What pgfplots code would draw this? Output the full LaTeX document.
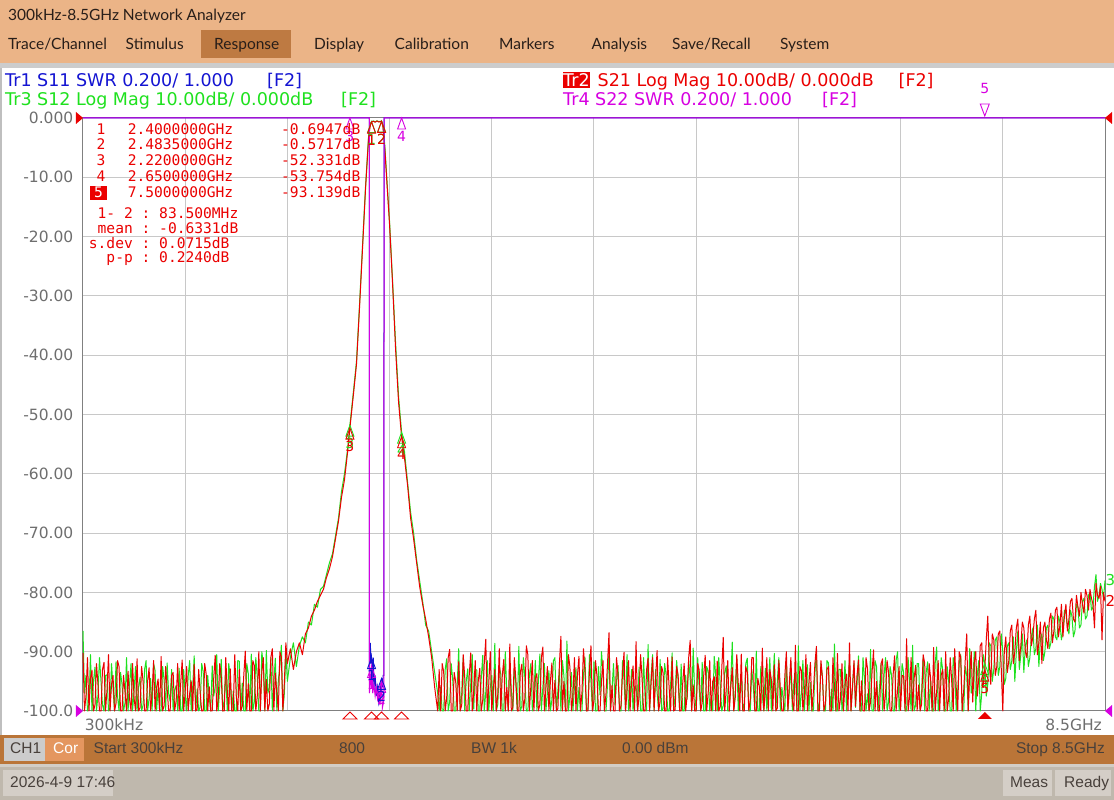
\documentclass[border=0pt]{standalone}
\usepackage{pgfplots}
\pgfplotsset{compat=1.18}
\usepackage{pgfplotstable}
\usepackage{fontspec}
\setmainfont{DejaVu Sans}
\newfontfamily\uifont{Lato}
\newfontfamily\arialfont{Liberation Sans}
\newfontfamily\monofont{DejaVu Sans Mono}

\definecolor{barorange}{RGB}{235,180,135}
\definecolor{respbox}{RGB}{190,122,66}
\definecolor{statusbar}{RGB}{186,117,56}
\definecolor{bottomgray}{RGB}{191,184,173}
\definecolor{uitext}{RGB}{40,30,25}
\definecolor{trred}{RGB}{235,0,0}
\definecolor{trgreen}{RGB}{30,225,30}
\definecolor{trblue}{RGB}{20,20,210}
\definecolor{trmag}{RGB}{215,0,225}
\definecolor{gridgray}{RGB}{200,200,200}
\definecolor{ticktext}{RGB}{110,110,110}
\definecolor{corbox}{RGB}{228,150,95}
\definecolor{btnbox}{RGB}{212,206,199}

\newcommand{\lbl}{\fontsize{14}{16}\selectfont}
\newcommand{\hdr}{\fontsize{17.5}{20}\selectfont}
\newcommand{\mono}{\monofont\fontsize{14.6}{16}\selectfont}

% marker shapes
\pgfdeclareplotmark{mkup}{%
  \pgfpathmoveto{\pgfqpoint{0pt}{0pt}}%
  \pgfpathlineto{\pgfqpoint{4pt}{-11pt}}%
  \pgfpathlineto{\pgfqpoint{-4pt}{-11pt}}%
  \pgfpathclose\pgfusepathqstroke}
\pgfdeclareplotmark{dntri}{%
  \pgfpathmoveto{\pgfqpoint{0pt}{2pt}}%
  \pgfpathlineto{\pgfqpoint{4.5pt}{14pt}}%
  \pgfpathlineto{\pgfqpoint{-4.5pt}{14pt}}%
  \pgfpathclose\pgfusepathqstroke}
\pgfdeclareplotmark{stim}{%
  \pgfpathmoveto{\pgfqpoint{0pt}{-1pt}}%
  \pgfpathlineto{\pgfqpoint{7pt}{-8pt}}%
  \pgfpathlineto{\pgfqpoint{-7pt}{-8pt}}%
  \pgfpathclose\pgfusepathqstroke}
\pgfdeclareplotmark{stimfill}{%
  \pgfpathmoveto{\pgfqpoint{0pt}{-1pt}}%
  \pgfpathlineto{\pgfqpoint{7pt}{-8pt}}%
  \pgfpathlineto{\pgfqpoint{-7pt}{-8pt}}%
  \pgfpathclose\pgfusepathqfill}
\pgfdeclareplotmark{rtri}{%
  \pgfpathmoveto{\pgfqpoint{0pt}{0pt}}%
  \pgfpathlineto{\pgfqpoint{-7pt}{6pt}}%
  \pgfpathlineto{\pgfqpoint{-7pt}{-6pt}}%
  \pgfpathclose\pgfusepathqfill}
\pgfdeclareplotmark{ltri}{%
  \pgfpathmoveto{\pgfqpoint{0pt}{0pt}}%
  \pgfpathlineto{\pgfqpoint{7pt}{6pt}}%
  \pgfpathlineto{\pgfqpoint{7pt}{-6pt}}%
  \pgfpathclose\pgfusepathqfill}

\pgfplotsset{mk/.style={only marks, mark=mkup, color=#1,
    mark options={line width=0.9pt, solid},
    nodes near coords, point meta=explicit symbolic,
    every node near coord/.style={anchor=north, yshift=-12.5pt, inner sep=0pt, font=\lbl, text=#1}}}

% f [GHz], S21 (red), S12 (green) in dB
\pgfplotstableread{
f r g
0.0003 -90.2 -86.5
0.0125 -100 -97.0
0.025 -97.5 -94.0
0.0375 -91.0 -100
0.050 -100 -98.8
0.0625 -94.5 -90.5
0.075 -93.1 -100
0.0875 -100 -95.0
0.100 -99.0 -92.6
0.1125 -92.0 -100
0.125 -95.6 -97.3
0.1375 -100 -91.0
0.150 -100 -95.0
0.1625 -93.0 -99.0
0.175 -91.8 -100
0.1875 -100 -94.0
0.200 -96.4 -93.9
0.2125 -90.5 -100
0.225 -100 -99.5
0.2375 -95.5 -92.0
0.250 -94.0 -96.1
0.2625 -100 -100
0.275 -98.7 -91.7
0.2875 -91.5 -97.5
0.300 -92.5 -100
0.3125 -100 -93.5
0.325 -100 -95.5
0.3375 -94.0 -100
0.350 -96.9 -98.6
0.3625 -100 -91.0
0.375 -93.3 -100
0.3875 -98.0 -95.5
0.400 -100 -92.0
0.4125 -92.0 -100
0.425 -97.8 -96.7
0.4375 -100 -92.5
0.450 -91.2 -100
0.4625 -100 -96.0
0.475 -99.4 -94.3
0.4875 -92.5 -100
0.500 -95.0 -99.0
0.5125 -100 -93.0
0.525 -100 -91.5
0.5375 -95.0 -100
0.550 -92.7 -97.9
0.5625 -100 -94.5
0.575 -97.1 -100
0.5875 -91.5 -92.0
0.600 -100 -93.2
0.6125 -96.0 -100
0.625 -94.6 -96.0
0.6375 -100 -100
0.650 -90.8 -100
0.6625 -100 -92.5
0.675 -99.1 -94.8
0.6875 -92.5 -100
0.700 -96.2 -91.9
0.7125 -100 -97.0
0.725 -100 -98.4
0.7375 -94.0 -93.0
0.750 -93.5 -100
0.7625 -100 -96.5
0.775 -98.3 -95.7
0.7875 -92.0 -100
0.800 -100 -92.8
0.8125 -95.5 -100
0.825 -91.4 -100
0.8375 -100 -93.0
0.850 -96.8 -97.2
0.8625 -92.5 -100
0.875 -100 -94.1
0.8875 -97.0 -91.5
0.900 -94.9 -100
0.9125 -100 -96.0
0.925 -92.1 -90.7
0.9375 -100 -100
0.950 -99.7 -96.3
0.9625 -93.0 -100
0.975 -97.0 -99.3
0.9875 -100 -92.0
1.000 -100 -93.4
1.0125 -92.0 -100
1.025 -93.8 -100
1.0375 -100 -94.0
1.050 -95.9 -97.7
1.0625 -100 -100
1.075 -100 -92.4
1.0875 -94.5 -97.5
1.100 -90.6 -95.8
1.1125 -100 -90.5
1.125 -98.0 -100
1.1375 -92.0 -96.0
1.150 -94.2 -91.3
1.1625 -100 -100
1.175 -100 -98.1
1.1875 -91.0 -93.5
1.200 -96.5 -100
1.2125 -100 -92.0
1.225 -92.9 -94.5
1.2375 -100 -100
1.250 -100 -96.6
1.2625 -90.5 -100
1.275 -97.6 -100
1.2875 -100 -91.5
1.300 -93.0 -91.6
1.3125 -100 -100
1.325 -99.2 -95.3
1.3375 -94.0 -100
1.350 -89.9 -100
1.3625 -100 -92.0
1.375 -95.4 -93.7
1.3875 -100 -100
1.400 -100 -90.4
1.4125 -91.5 -100
1.425 -92.3 -98.5
1.4375 -100 -91.0
1.450 -97.4 -94.4
1.4625 -90.0 -100
1.475 -100 -100
1.4875 -93.5 -90.0
1.500 -91.0 -92.2
1.5125 -100 -100
1.525 -94.7 -89.8
1.5375 -100 -97.0
1.550 -98.8 -96.0
1.5625 -91.0 -91.0
1.575 -89.5 -100
1.5875 -100 -95.0
1.600 -93.6 -91.1
1.6125 -97.0 -100
1.625 -100 -94.8
1.6375 -90.0 -92.5
1.650 -90.9 -88.9
1.6625 -100 -100
1.675 -95.2 -97.0
1.6875 -88.5 -90.0
1.700 -92.0 -95.0
1.725 -89.5 -91.0
1.750 -93.0 -88.5
1.775 -90.0 -92.5
1.800 -88.5 -89.0
1.825 -90.5 -87.5
1.850 -87.0 -88.5
1.875 -86.0 -85.0
1.900 -84.0 -85.5
1.925 -83.0 -82.0
1.950 -81.5 -82.5
1.975 -80.5 -79.5
2.000 -79.5 -79.0
2.025 -77.5 -77.0
2.050 -76.0 -75.0
2.075 -74.0 -73.5
2.100 -71.0 -70.5
2.125 -68.0 -67.5
2.150 -64.0 -63.0
2.175 -61.0 -60.0
2.200 -56.5 -56.0
2.220 -52.3 -51.8
2.250 -46.5 -46.0
2.275 -41.5 -41.0
2.300 -32.0 -31.5
2.325 -22.0 -21.5
2.350 -12.0 -11.5
2.375 -3.5 -3.2
2.390 -1.0 -0.9
2.400 -0.69 -0.62
2.415 -0.55 -0.50
2.430 -0.72 -0.66
2.445 -0.50 -0.47
2.460 -0.68 -0.61
2.475 -0.60 -0.55
2.4835 -0.57 -0.52
2.495 -1.5 -1.4
2.510 -5.0 -4.6
2.525 -10.0 -9.5
2.550 -18.0 -17.5
2.575 -28.0 -27.5
2.600 -39.0 -38.0
2.625 -48.0 -47.0
2.650 -53.75 -53.0
2.675 -57.5 -56.5
2.700 -62.0 -61.5
2.725 -67.5 -66.5
2.750 -71.0 -70.0
2.775 -75.0 -74.5
2.800 -79.0 -78.0
2.825 -82.0 -81.5
2.850 -84.5 -85.5
2.875 -87.5 -86.5
2.900 -91.0 -90.0
2.925 -96.0 -93.5
2.950 -100 -97.0
2.9625 -93.0 -100
2.975 -100 -96.0
2.9875 -92.0 -100
3.000 -93.4 -100
3.0125 -100 -93.0
3.025 -97.8 -91.2
3.0375 -91.0 -100
3.050 -89.6 -98.4
3.0625 -100 -92.0
3.075 -100 -94.7
3.0875 -93.5 -100
3.100 -95.1 -100
3.1125 -100 -95.5
3.125 -91.7 -89.5
3.1375 -100 -100
3.150 -99.0 -97.1
3.1625 -90.5 -91.0
3.175 -94.3 -100
3.1875 -100 -95.0
3.200 -100 -92.9
3.2125 -94.0 -100
3.225 -90.2 -95.4
3.2375 -100 -90.5
3.250 -96.7 -99.7
3.2625 -91.5 -93.0
3.275 -100 -93.1
3.2875 -95.0 -100
3.300 -92.8 -100
3.3125 -100 -94.5
3.325 -98.1 -90.6
3.3375 -92.0 -100
3.350 -87.9 -96.8
3.3625 -100 -91.5
3.375 -95.5 -100
3.3875 -90.0 -96.0
3.400 -100 -94.0
3.4125 -96.5 -100
3.425 -93.0 -88.6
3.4375 -100 -100
3.450 -97.2 -98.9
3.4625 -89.5 -92.5
3.475 -100 -93.8
3.4875 -94.0 -100
3.500 -91.3 -100
3.5125 -100 -90.0
3.525 -96.0 -97.0
3.5375 -100 -100
3.550 -88.7 -91.5
3.5625 -100 -96.5
3.575 -99.4 -100
3.5875 -91.0 -93.0
3.600 -94.6 -95.3
3.6125 -100 -100
3.625 -100 -89.1
3.6375 -93.5 -100
3.650 -92.1 -99.2
3.6625 -100 -91.0
3.675 -97.9 -94.4
3.6875 -89.0 -100
3.700 -90.5 -100
3.7125 -100 -94.0
3.725 -95.8 -92.0
3.7375 -91.5 -100
3.750 -100 -97.6
3.7625 -94.5 -91.5
3.775 -93.7 -100
3.7875 -100 -95.0
3.800 -98.9 -90.4
3.8125 -91.0 -100
3.825 -89.2 -95.9
3.8375 -100 -92.0
3.850 -96.3 -100
3.8625 -92.5 -97.0
3.875 -100 -93.2
3.8875 -95.0 -100
3.900 -91.9 -98.1
3.9125 -100 -91.5
3.925 -94.8 -91.0
3.9375 -100 -100
3.950 -99.6 -96.5
3.9625 -92.0 -93.0
3.975 -87.4 -100
3.9875 -100 -91.5
4.000 -95.0 -94.1
4.0125 -100 -100
4.025 -100 -88.2
4.0375 -90.5 -100
4.050 -92.6 -97.4
4.0625 -100 -93.5
4.075 -97.5 -100
4.0875 -91.0 -96.0
4.100 -100 -92.7
4.1125 -94.0 -100
4.125 -90.8 -96.0
4.1375 -100 -100
4.150 -96.9 -100
4.1625 -89.5 -94.0
4.175 -93.3 -90.9
4.1875 -100 -100
4.200 -100 -99.5
4.2125 -93.0 -90.5
4.225 -89.0 -95.1
4.2375 -100 -100
4.250 -98.2 -91.7
4.2625 -91.5 -100
4.275 -94.1 -100
4.2875 -100 -92.5
4.300 -100 -97.3
4.3125 -95.0 -90.0
4.325 -91.5 -93.6
4.3375 -100 -100
4.350 -97.0 -100
4.3625 -92.0 -95.5
4.375 -86.8 -89.8
4.3875 -100 -100
4.400 -95.7 -96.4
4.4125 -100 -92.0
4.425 -100 -99.0
4.4375 -91.0 -95.0
4.450 -93.9 -92.3
4.4625 -100 -100
4.475 -99.1 -100
4.4875 -93.5 -91.5
4.500 -90.1 -94.8
4.5125 -100 -100
4.525 -96.5 -90.5
4.5375 -91.5 -100
4.550 -100 -98.2
4.5625 -95.0 -93.0
4.575 -92.4 -100
4.5875 -100 -96.5
4.600 -88.3 -95.7
4.6125 -100 -100
4.625 -97.6 -92.6
4.6375 -90.5 -100
4.650 -94.5 -100
4.6625 -100 -91.0
4.675 -100 -97.9
4.6875 -93.0 -100
4.700 -91.1 -88.8
4.7125 -100 -100
4.725 -95.3 -94.2
4.7375 -91.0 -90.5
4.750 -100 -100
4.7625 -94.5 -93.0
4.775 -89.8 -96.9
4.7875 -100 -100
4.800 -98.4 -91.3
4.8125 -92.5 -100
4.825 -93.6 -99.6
4.8375 -100 -92.0
4.850 -100 -93.9
4.8625 -91.0 -100
4.875 -96.1 -100
4.8875 -100 -95.5
4.900 -90.9 -90.2
4.9125 -100 -100
4.925 -99.8 -97.2
4.9375 -92.5 -91.5
4.950 -94.0 -95.0
4.9625 -100 -100
4.975 -100 -92.1
4.9875 -95.5 -100
5.000 -92.0 -100
5.0125 -100 -94.0
5.025 -97.3 -98.0
5.0375 -91.0 -91.5
5.050 -88.1 -94.5
5.0625 -100 -100
5.075 -95.6 -89.4
5.0875 -100 -97.0
5.100 -100 -100
5.1125 -92.0 -91.0
5.125 -93.1 -96.2
5.1375 -100 -100
5.150 -98.6 -91.8
5.1625 -94.0 -100
5.175 -90.6 -100
5.1875 -100 -92.5
5.200 -96.8 -93.3
5.2125 -91.5 -100
5.225 -100 -97.7
5.2375 -95.0 -100
5.250 -94.2 -90.8
5.2625 -100 -94.0
5.275 -91.6 -100
5.2875 -100 -91.0
5.300 -99.3 -95.5
5.3125 -93.0 -100
5.325 -87.6 -99.1
5.3375 -100 -93.5
5.350 -96.2 -92.4
5.3625 -91.5 -100
5.375 -100 -100
5.3875 -96.0 -95.0
5.400 -92.7 -88.4
5.4125 -100 -100
5.425 -97.7 -96.6
5.4375 -90.5 -91.0
5.450 -95.4 -100
5.4625 -100 -96.0
5.475 -90.4 -93.7
5.4875 -100 -100
5.500 -100 -98.6
5.5125 -92.5 -92.0
5.525 -93.5 -91.1
5.5375 -100 -100
5.550 -98.0 -100
5.5625 -91.0 -93.0
5.575 -91.0 -95.8
5.5875 -100 -100
5.600 -100 -89.9
5.6125 -94.5 -100
5.625 -95.9 -100
5.6375 -100 -92.5
5.650 -89.4 -97.5
5.6625 -100 -100
5.675 -97.1 -92.8
5.6875 -91.0 -100
5.700 -100 -96.1
5.7125 -93.0 -91.0
5.725 -94.7 -100
5.7375 -100 -95.5
5.750 -92.2 -90.3
5.7625 -100 -100
5.775 -99.5 -94.9
5.7875 -91.5 -91.0
5.800 -96.4 -100
5.8125 -100 -96.0
5.825 -100 -98.3
5.8375 -94.0 -100
5.850 -90.0 -91.6
5.8625 -100 -100
5.875 -95.2 -96.7
5.8875 -91.0 -92.0
5.900 -98.3 -100
5.9125 -100 -95.0
5.925 -88.9 -93.4
5.9375 -100 -100
5.950 -100 -89.0
5.9625 -92.5 -100
5.975 -93.2 -97.0
5.9875 -100 -91.5
6.000 -97.4 -100
6.0125 -90.5 -95.0
6.025 -100 -92.2
6.0375 -95.5 -100
6.050 -91.8 -95.2
6.0625 -100 -100
6.075 -96.6 -100
6.0875 -92.0 -93.5
6.100 -89.1 -90.1
6.1125 -100 -100
6.125 -100 -98.8
6.1375 -91.5 -92.0
6.150 -94.4 -94.3
6.1625 -100 -100
6.175 -98.7 -100
6.1875 -93.0 -91.5
6.200 -92.5 -91.9
6.2125 -100 -100
6.225 -100 -96.3
6.2375 -91.0 -100
6.250 -95.9 -88.7
6.2625 -100 -100
6.275 -90.3 -100
6.2875 -100 -93.0
6.300 -97.9 -93.0
6.3125 -92.0 -100
6.325 -100 -97.8
6.3375 -95.5 -91.5
6.350 -93.8 -100
6.3625 -100 -95.0
6.375 -88.5 -91.4
6.3875 -100 -100
6.400 -96.0 -95.6
6.4125 -91.5 -92.0
6.425 -99.2 -99.4
6.4375 -94.0 -95.5
6.450 -91.4 -90.7
6.4625 -100 -100
6.475 -94.9 -100
6.4875 -100 -91.0
6.500 -100 -94.6
6.5125 -91.0 -100
6.525 -92.9 -97.1
6.5375 -100 -100
6.550 -98.5 -89.6
6.5625 -93.5 -100
6.575 -89.7 -100
6.5875 -100 -91.5
6.600 -95.0 -92.5
6.6125 -100 -100
6.625 -100 -96.0
6.6375 -92.0 -92.0
6.650 -91.2 -100
6.6625 -100 -94.0
6.675 -97.0 -91.0
6.6875 -91.5 -100
6.700 -93.5 -98.5
6.7125 -100 -92.5
6.725 -100 -94.0
6.7375 -94.0 -100
6.750 -90.7 -100
6.7625 -100 -91.5
6.775 -96.3 -90.0
6.7875 -92.5 -100
6.800 -99.9 -97.4
6.8125 -94.0 -92.0
6.825 -94.1 -93.5
6.8375 -100 -100
6.850 -87.8 -100
6.8625 -100 -91.0
6.875 -97.5 -95.3
6.8875 -91.0 -100
6.900 -100 -88.9
6.9125 -94.5 -100
6.925 -92.3 -99.0
6.9375 -100 -92.0
6.950 -95.6 -92.0
6.9625 -100 -100
6.975 -98.8 -96.8
6.9875 -90.5 -91.0
7.000 -91.9 -100
7.0125 -100 -93.5
7.025 -100 -91.7
7.0375 -92.0 -100
7.050 -94.6 -94.9
7.0625 -100 -100
7.075 -89.3 -100
7.0875 -100 -92.0
7.100 -96.7 -89.2
7.1125 -91.5 -100
7.125 -100 -97.3
7.1375 -94.0 -91.0
7.150 -93.0 -93.1
7.1625 -100 -100
7.175 -90.0 -100
7.1875 -100 -92.5
7.200 -97.8 -95.0
7.2125 -91.0 -100
7.225 -95.0 -100
7.2375 -100 -91.0
7.250 -89.5 -93.0
7.2625 -96.0 -100
7.275 -100 -96.5
7.2875 -90.0 -92.0
7.300 -91.0 -90.5
7.3125 -100 -100
7.325 -96.5 -100
7.3375 -91.5 -92.5
7.350 -87.0 -94.0
7.3625 -100 -100
7.375 -93.5 -89.5
7.3875 -90.0 -97.0
7.400 -98.5 -95.5
7.4125 -92.0 -90.0
7.425 -90.0 -100
7.4375 -97.5 -94.0
7.450 -94.5 -91.5
7.4625 -89.0 -100
7.475 -88.5 -97.0
7.4875 -96.0 -90.5
7.500 -93.1 -92.0
7.5125 -88.0 -97.5
7.525 -84.0 -95.5
7.5375 -92.0 -88.5
7.550 -95.5 -89.0
7.5625 -87.0 -95.0
7.575 -88.0 -93.0
7.5875 -94.0 -88.0
7.600 -92.5 -87.5
7.6125 -87.0 -94.0
7.625 -86.5 -92.5
7.6375 -93.0 -87.0
7.650 -100 -90.0
7.6625 -90.0 -95.5
7.675 -87.5 -94.5
7.6875 -93.5 -89.0
7.700 -91.5 -88.5
7.7125 -86.5 -93.0
7.725 -85.5 -91.5
7.7375 -92.0 -87.5
7.750 -90.0 -95.0
7.7625 -86.0 -90.0
7.775 -84.5 -86.5
7.7875 -91.5 -93.0
7.800 -89.0 -90.5
7.8125 -85.0 -87.0
7.825 -86.0 -93.5
7.8375 -90.0 -89.0
7.850 -91.0 -88.0
7.8625 -85.5 -92.5
7.875 -84.0 -91.0
7.8875 -89.0 -87.5
7.900 -87.5 -86.0
7.9125 -84.5 -90.5
7.925 -83.0 -89.5
7.9375 -90.5 -85.5
7.950 -88.5 -92.5
7.9625 -85.0 -88.0
7.975 -92.0 -87.0
7.9875 -86.0 -91.5
8.000 -85.0 -90.0
8.0125 -88.0 -86.0
8.025 -89.5 -85.5
8.0375 -84.5 -89.5
8.050 -83.5 -88.5
8.0625 -88.5 -84.0
8.075 -86.5 -84.5
8.0875 -83.0 -87.5
8.100 -82.5 -88.0
8.1125 -87.5 -84.0
8.125 -85.5 -85.0
8.1375 -82.0 -88.0
8.150 -87.5 -86.5
8.1625 -84.0 -83.0
8.175 -82.0 -83.5
8.1875 -86.5 -86.0
8.200 -84.5 -87.0
8.2125 -81.5 -83.0
8.225 -81.0 -84.0
8.2375 -84.5 -87.5
8.250 -85.0 -86.5
8.2625 -80.5 -82.0
8.275 -82.5 -82.5
8.2875 -84.0 -86.0
8.300 -80.0 -85.5
8.3125 -82.0 -81.5
8.325 -83.5 -81.0
8.3375 -79.5 -84.5
8.350 -80.5 -84.0
8.3625 -83.0 -80.5
8.375 -79.5 -80.0
8.3875 -81.0 -83.0
8.400 -82.0 -82.5
8.4125 -86.0 -79.0
8.425 -78.5 -77.0
8.4375 -80.5 -81.5
8.450 -81.0 -80.5
8.4625 -79.0 -78.5
8.475 -88.0 -79.5
8.4875 -80.0 -81.0
8.500 -81.5 -78.0
}\tracedata

\begin{document}
\begin{tikzpicture}[x=1pt,y=1pt]
\useasboundingbox (0pt,0pt) rectangle (1114pt,800pt);
% window background
\fill[white] (0,0) rectangle (1114,800);
\fill[barorange] (0,737) rectangle (1114,800);
\fill[gray!40] (0,732) rectangle (1114,737);
\fill[respbox] (201,742) rectangle (291,770);
\fill[gray!50] (0,65) rectangle (2,732);
\fill[statusbar] (0,36) rectangle (1114,65);
\fill[bottomgray!70!white] (0,33) rectangle (1114,36);
\fill[bottomgray] (0,0) rectangle (1114,33);
\fill[gray!40] (4,39) rectangle (45,62);
\fill[corbox] (45,39) rectangle (84,62);
\fill[btnbox] (3,4) rectangle (113,30);
\fill[btnbox] (1003,4) rectangle (1052,30);
\fill[btnbox] (1055,4) rectangle (1111,30);

% title and menu
\node[anchor=base west, inner sep=0, text=uitext, font=\uifont\fontsize{15.5}{18}\selectfont] at (8,779.5) {300kHz-8.5GHz Network Analyzer};
\begin{scope}[every node/.style={anchor=base west, inner sep=0, text=uitext, font=\uifont\fontsize{15.5}{18}\selectfont}]
\node at (8,750) {Trace/Channel};
\node at (125.5,750) {Stimulus};
\node at (214,750) {Response};
\node at (314,750) {Display};
\node at (394.5,750) {Calibration};
\node at (499,750) {Markers};
\node at (591.5,750) {Analysis};
\node at (672,750) {Save/Recall};
\node at (780,750) {System};
\end{scope}

% trace header lines
\begin{scope}[every node/.style={anchor=base west, inner sep=0, font=\hdr}]
\node[text=trblue] at (5,713.3) {Tr1 S11 SWR 0.200/ 1.000};
\node[text=trblue] at (267,713.3) {[F2]};
\node[text=trgreen] at (5,694) {Tr3 S12 Log Mag 10.00dB/ 0.000dB};
\node[text=trgreen] at (341,694) {[F2]};
\node[text=white, fill=trred, inner ysep=1.5pt] at (563,713.3) {Tr2};
\node[text=trred] at (597.5,713.3) {S21 Log Mag 10.00dB/ 0.000dB};
\node[text=trred] at (898.5,713.3) {[F2]};
\node[text=trmag] at (563,694) {Tr4 S22 SWR 0.200/ 1.000};
\node[text=trmag] at (822,694) {[F2]};
\end{scope}

\begin{axis}[
  at={(83pt,89pt)}, anchor=south west, scale only axis,
  width=1022pt, height=593pt,
  xmin=0.0003, xmax=8.5, ymin=-100, ymax=0,
  xtick={0.85,1.7,2.55,3.4,4.25,5.1,5.95,6.8,7.65}, xticklabels={},
  ytick={-100,-90,-80,-70,-60,-50,-40,-30,-20,-10,0},
  yticklabels={-100.0,-90.00,-80.00,-70.00,-60.00,-50.00,-40.00,-30.00,-20.00,-10.00,0.000},
  yticklabel style={font=\fontsize{15.5}{18}\selectfont, text=ticktext, inner sep=0pt, xshift=-9.5pt},
  grid=major, major grid style={gridgray, line width=1pt},
  major tick length=0pt,
  axis line style={draw=gray, line width=1pt},
  clip=false,
]
% S12 and S21 traces
\addplot[trgreen, line width=1pt, line join=round] table[x=f, y=g] {\tracedata};
\addplot[trred, line width=1pt, line join=round] table[x=f, y=r] {\tracedata};
% S11 SWR trace (display units)
\addplot[trblue, line width=1pt] coordinates {
 (0.0003,0) (2.381,0) (2.382,-93) (2.390,-88.5) (2.395,-92) (2.400,-91) (2.405,-92) (2.410,-95)
 (2.415,-91) (2.420,-96) (2.430,-94) (2.440,-97.5) (2.450,-96) (2.460,-98.5)
 (2.470,-97) (2.4835,-94.5) (2.490,-96) (2.497,-94) (2.503,-94) (2.504,0) (8.5,0)};
% S22 SWR trace (display units)
\addplot[trmag, line width=1pt] coordinates {
 (0.0003,0) (2.381,0) (2.382,-97) (2.390,-95.5) (2.395,-93) (2.400,-92.5) (2.405,-94)
 (2.410,-97) (2.420,-95.5) (2.430,-97.5) (2.440,-96) (2.450,-98) (2.460,-97)
 (2.470,-99) (2.4835,-95) (2.490,-99.5) (2.500,-98.5) (2.503,-98) (2.504,0) (8.5,0)};

% markers
\addplot[mk=trgreen] table[meta=lab] {
f v lab
2.4 -0.62 1
2.4835 -0.52 2
2.22 -51.8 3
2.65 -53.0 4
7.5 -92.0 5
};
\addplot[mk=trred] table[meta=lab] {
f v lab
2.4 -0.69 1
2.4835 -0.57 2
2.22 -52.3 3
2.65 -53.75 4
7.5 -93.1 5
};
\addplot[mk=trmag] table[meta=lab] {
f v lab
2.22 0 3
2.65 0 4
2.4 -92.5 1
2.4835 -95 2
};
\addplot[mk=trblue] table[meta=lab] {
f v lab
2.4 -91 1
2.4835 -94.5 2
};
\addplot[only marks, mark=dntri, trmag, mark options={line width=0.9pt},
  nodes near coords, point meta=explicit symbolic,
  every node near coord/.style={anchor=south, yshift=24pt, inner sep=0pt, font=\lbl, text=trmag}]
  coordinates {(7.5,0) [5]};
% stimulus markers below the axis
\addplot[only marks, mark=stim, trred, mark options={line width=0.9pt}]
  coordinates {(2.22,-100) (2.4,-100) (2.4835,-100) (2.65,-100)};
\addplot[only marks, mark=stimfill, trred] coordinates {(7.5,-100)};
% reference position arrows
\addplot[only marks, mark=rtri, trred] coordinates {(0.0003,0)};
\addplot[only marks, mark=rtri, trmag] coordinates {(0.0003,-100)};
\addplot[only marks, mark=ltri, trred] coordinates {(8.5,0)};
\addplot[only marks, mark=ltri, trmag] coordinates {(8.5,-100)};
% trace end labels
\addplot[draw=none, nodes near coords, point meta=explicit symbolic,
  every node near coord/.style={anchor=west, xshift=0.5pt, inner sep=0pt, font=\fontsize{15}{17}\selectfont, text=trgreen}]
  coordinates {(8.5,-78) [3]};
\addplot[draw=none, nodes near coords, point meta=explicit symbolic,
  every node near coord/.style={anchor=west, xshift=0.5pt, inner sep=0pt, font=\fontsize{15}{17}\selectfont, text=trred}]
  coordinates {(8.5,-81.5) [2]};
\end{axis}

% x range labels
\node[anchor=base west, inner sep=0, text=ticktext, font=\fontsize{15.5}{18}\selectfont] at (84.6,69) {300kHz};
\node[anchor=base east, inner sep=0, text=ticktext, font=\fontsize{15.5}{18}\selectfont] at (1102,69) {8.5GHz};

% marker readout
\begin{scope}[every node/.style={anchor=base west, inner sep=0, text=trred, font=\mono}]
\fill[trred] (90,600) rectangle (107,614);
\node at (96.5,665.4) {1};
\node at (96.5,650) {2};
\node at (96.5,634) {3};
\node at (96.5,618) {4};
\node[text=white] at (94,602) {5};
\node at (127.6,665.4) {2.4000000GHz};
\node at (127.6,650) {2.4835000GHz};
\node at (127.6,634) {2.2200000GHz};
\node at (127.6,618) {2.6500000GHz};
\node at (127.6,602) {7.5000000GHz};
\node at (281,665.4) {-0.6947dB};
\node at (281,650) {-0.5717dB};
\node at (281,634) {-52.331dB};
\node at (281,618) {-53.754dB};
\node at (281,602) {-93.139dB};
\node at (88.7,581.4) {~1-~2~:~83.500MHz};
\node at (88.7,566.4) {~mean~:~-0.6331dB};
\node at (88.7,551.4) {s.dev~:~0.0715dB};
\node at (88.7,537) {~~p-p~:~0.2240dB};
\end{scope}

% status bar
\begin{scope}[every node/.style={anchor=base west, inner sep=0, text=uitext!85!white, font=\arialfont\fontsize{15.5}{18}\selectfont}]
\node at (10,46.5) {CH1};
\node[text=white] at (53,46.5) {Cor};
\node at (93.5,46.5) {Start 300kHz};
\node at (339,46.5) {800};
\node at (471,46.5) {BW 1k};
\node at (622,46.5) {0.00 dBm};
\node[anchor=base east] at (1105,46.5) {Stop 8.5GHz};
\node at (10,12.5) {2026-4-9 17:46};
\node at (1010,12.5) {Meas};
\node at (1064,12.5) {Ready};
\end{scope}
\end{tikzpicture}
\end{document}
